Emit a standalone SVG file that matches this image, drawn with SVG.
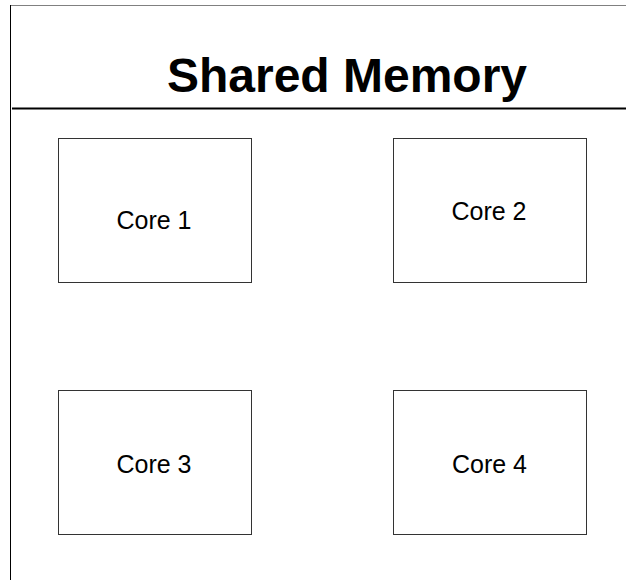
<svg xmlns="http://www.w3.org/2000/svg" width="626" height="580" viewBox="0 0 626 580">
<style>
.core rect{fill:#fff;stroke:#333;stroke-width:1}
.core text{font-family:"Liberation Sans",Arial,sans-serif;font-size:25px;fill:#000;text-anchor:middle}
.title{font-family:"Liberation Sans",Arial,sans-serif;font-size:48px;font-weight:bold;fill:#000;text-anchor:middle}
</style>
<rect width="626" height="580" fill="#fff"/>
<g id="frame">
<line x1="10.5" y1="5.5" x2="626" y2="5.5" stroke="#808080" stroke-width="1"/>
<line x1="10.5" y1="5" x2="10.5" y2="580" stroke="#000" stroke-width="1"/>
<line x1="12" y1="108.5" x2="626" y2="108.5" stroke="#000" stroke-width="2"/>
<text class="title" x="347" y="92">Shared Memory</text>
</g>
<g id="connectors"></g>
<g id="core1" class="core"><rect x="58.5" y="138.5" width="193" height="144"/><text x="154" y="229">Core 1</text></g>
<g id="core2" class="core"><rect x="393.5" y="138.5" width="193" height="144"/><text x="489" y="220">Core 2</text></g>
<g id="core3" class="core"><rect x="58.5" y="390.5" width="193" height="144"/><text x="154" y="472.5">Core 3</text></g>
<g id="core4" class="core"><rect x="393.5" y="390.5" width="193" height="144"/><text x="489.5" y="472.5">Core 4</text></g>
</svg>
